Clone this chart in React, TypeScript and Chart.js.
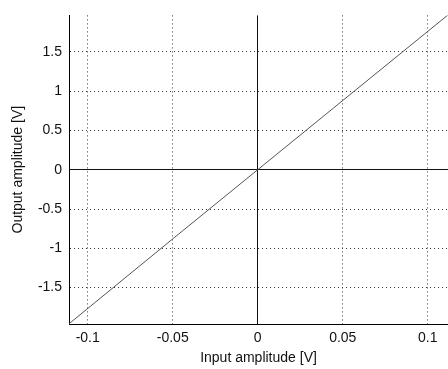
import React, { useEffect, useRef } from "react";
import { Chart, registerables } from "chart.js";

Chart.register(...registerables);

const inputAmplitude = [-0.111, -0.05, 0, 0.05, 0.112];
const outputAmplitude = [-1.96, -0.88, 0, 0.88, 1.97];
const xTicks = [-0.1, -0.05, 0, 0.05, 0.1];
const yTicks = [-1.5, -1, -0.5, 0, 0.5, 1, 1.5];
const xLabel = "Input amplitude [V]";
const yLabel = "Output amplitude [V]";

const fmt = (v: number) => String(parseFloat(Number(v).toFixed(4)));

export default function App() {
  const ref = useRef<HTMLCanvasElement | null>(null);
  useEffect(() => {
    const canvas = ref.current;
    if (!canvas) return;
    const font = { family: "'Liberation Sans', Arial, sans-serif", size: 14 };
    const gridColor = (ctx: any) =>
      ctx.tick && Math.abs(ctx.tick.value) < 1e-9 ? "#111" : "#333";
    const gridDash = (ctx: any) =>
      ctx.tick && Math.abs(ctx.tick.value) < 1e-9 ? [] : [1, 3];
    const chart = new Chart(canvas, {
      type: "line",
      data: {
        datasets: [
          {
            data: inputAmplitude.map((x, i) => ({ x, y: outputAmplitude[i] })),
            borderColor: "#555",
            borderWidth: 1,
            pointRadius: 0,
            tension: 0,
            fill: false,
          },
        ],
      },
      options: {
        animation: false,
        responsive: false,
        maintainAspectRatio: false,
        layout: { padding: { top: 10, right: 0, left: 0, bottom: 0 } },
        plugins: { legend: { display: false }, tooltip: { enabled: false } },
        scales: {
          x: {
            type: "linear",
            min: -0.111,
            max: 0.1119,
            afterBuildTicks: (s: any) => {
              s.ticks = xTicks.map((v) => ({ value: v }));
            },
            afterFit: (s: any) => {
              s.height = 45;
            },
            ticks: {
              padding: 6,
              color: "#111",
              font,
              maxRotation: 0,
              autoSkip: false,
              callback: (v: any) => fmt(v),
            },
            grid: { color: gridColor, lineWidth: 1, drawTicks: false },
            border: { display: true, color: "#000", width: 1, dash: gridDash },
            title: {
              display: true,
              text: xLabel,
              color: "#111",
              font,
              padding: { top: 0, bottom: 2 },
            },
          },
          y: {
            type: "linear",
            min: -1.9625,
            max: 1.9625,
            afterBuildTicks: (s: any) => {
              s.ticks = yTicks.map((v) => ({ value: v }));
            },
            afterFit: (s: any) => {
              s.width = 69;
            },
            ticks: {
              padding: 7,
              color: "#111",
              font,
              autoSkip: false,
              callback: (v: any) => fmt(v),
            },
            grid: { color: gridColor, lineWidth: 1, drawTicks: false },
            border: { display: true, color: "#000", width: 1, dash: gridDash },
            title: {
              display: true,
              text: yLabel,
              color: "#111",
              font,
              padding: { top: 10, bottom: 0 },
            },
          },
        },
      },
    } as any);
    return () => chart.destroy();
  }, []);
  return (
    <div style={{ position: "fixed", left: 0, top: 0, width: 448, height: 369, background: "#fff" }}>
      <canvas ref={ref} width={448} height={369} style={{ width: 448, height: 369, display: "block" }} />
    </div>
  );
}
